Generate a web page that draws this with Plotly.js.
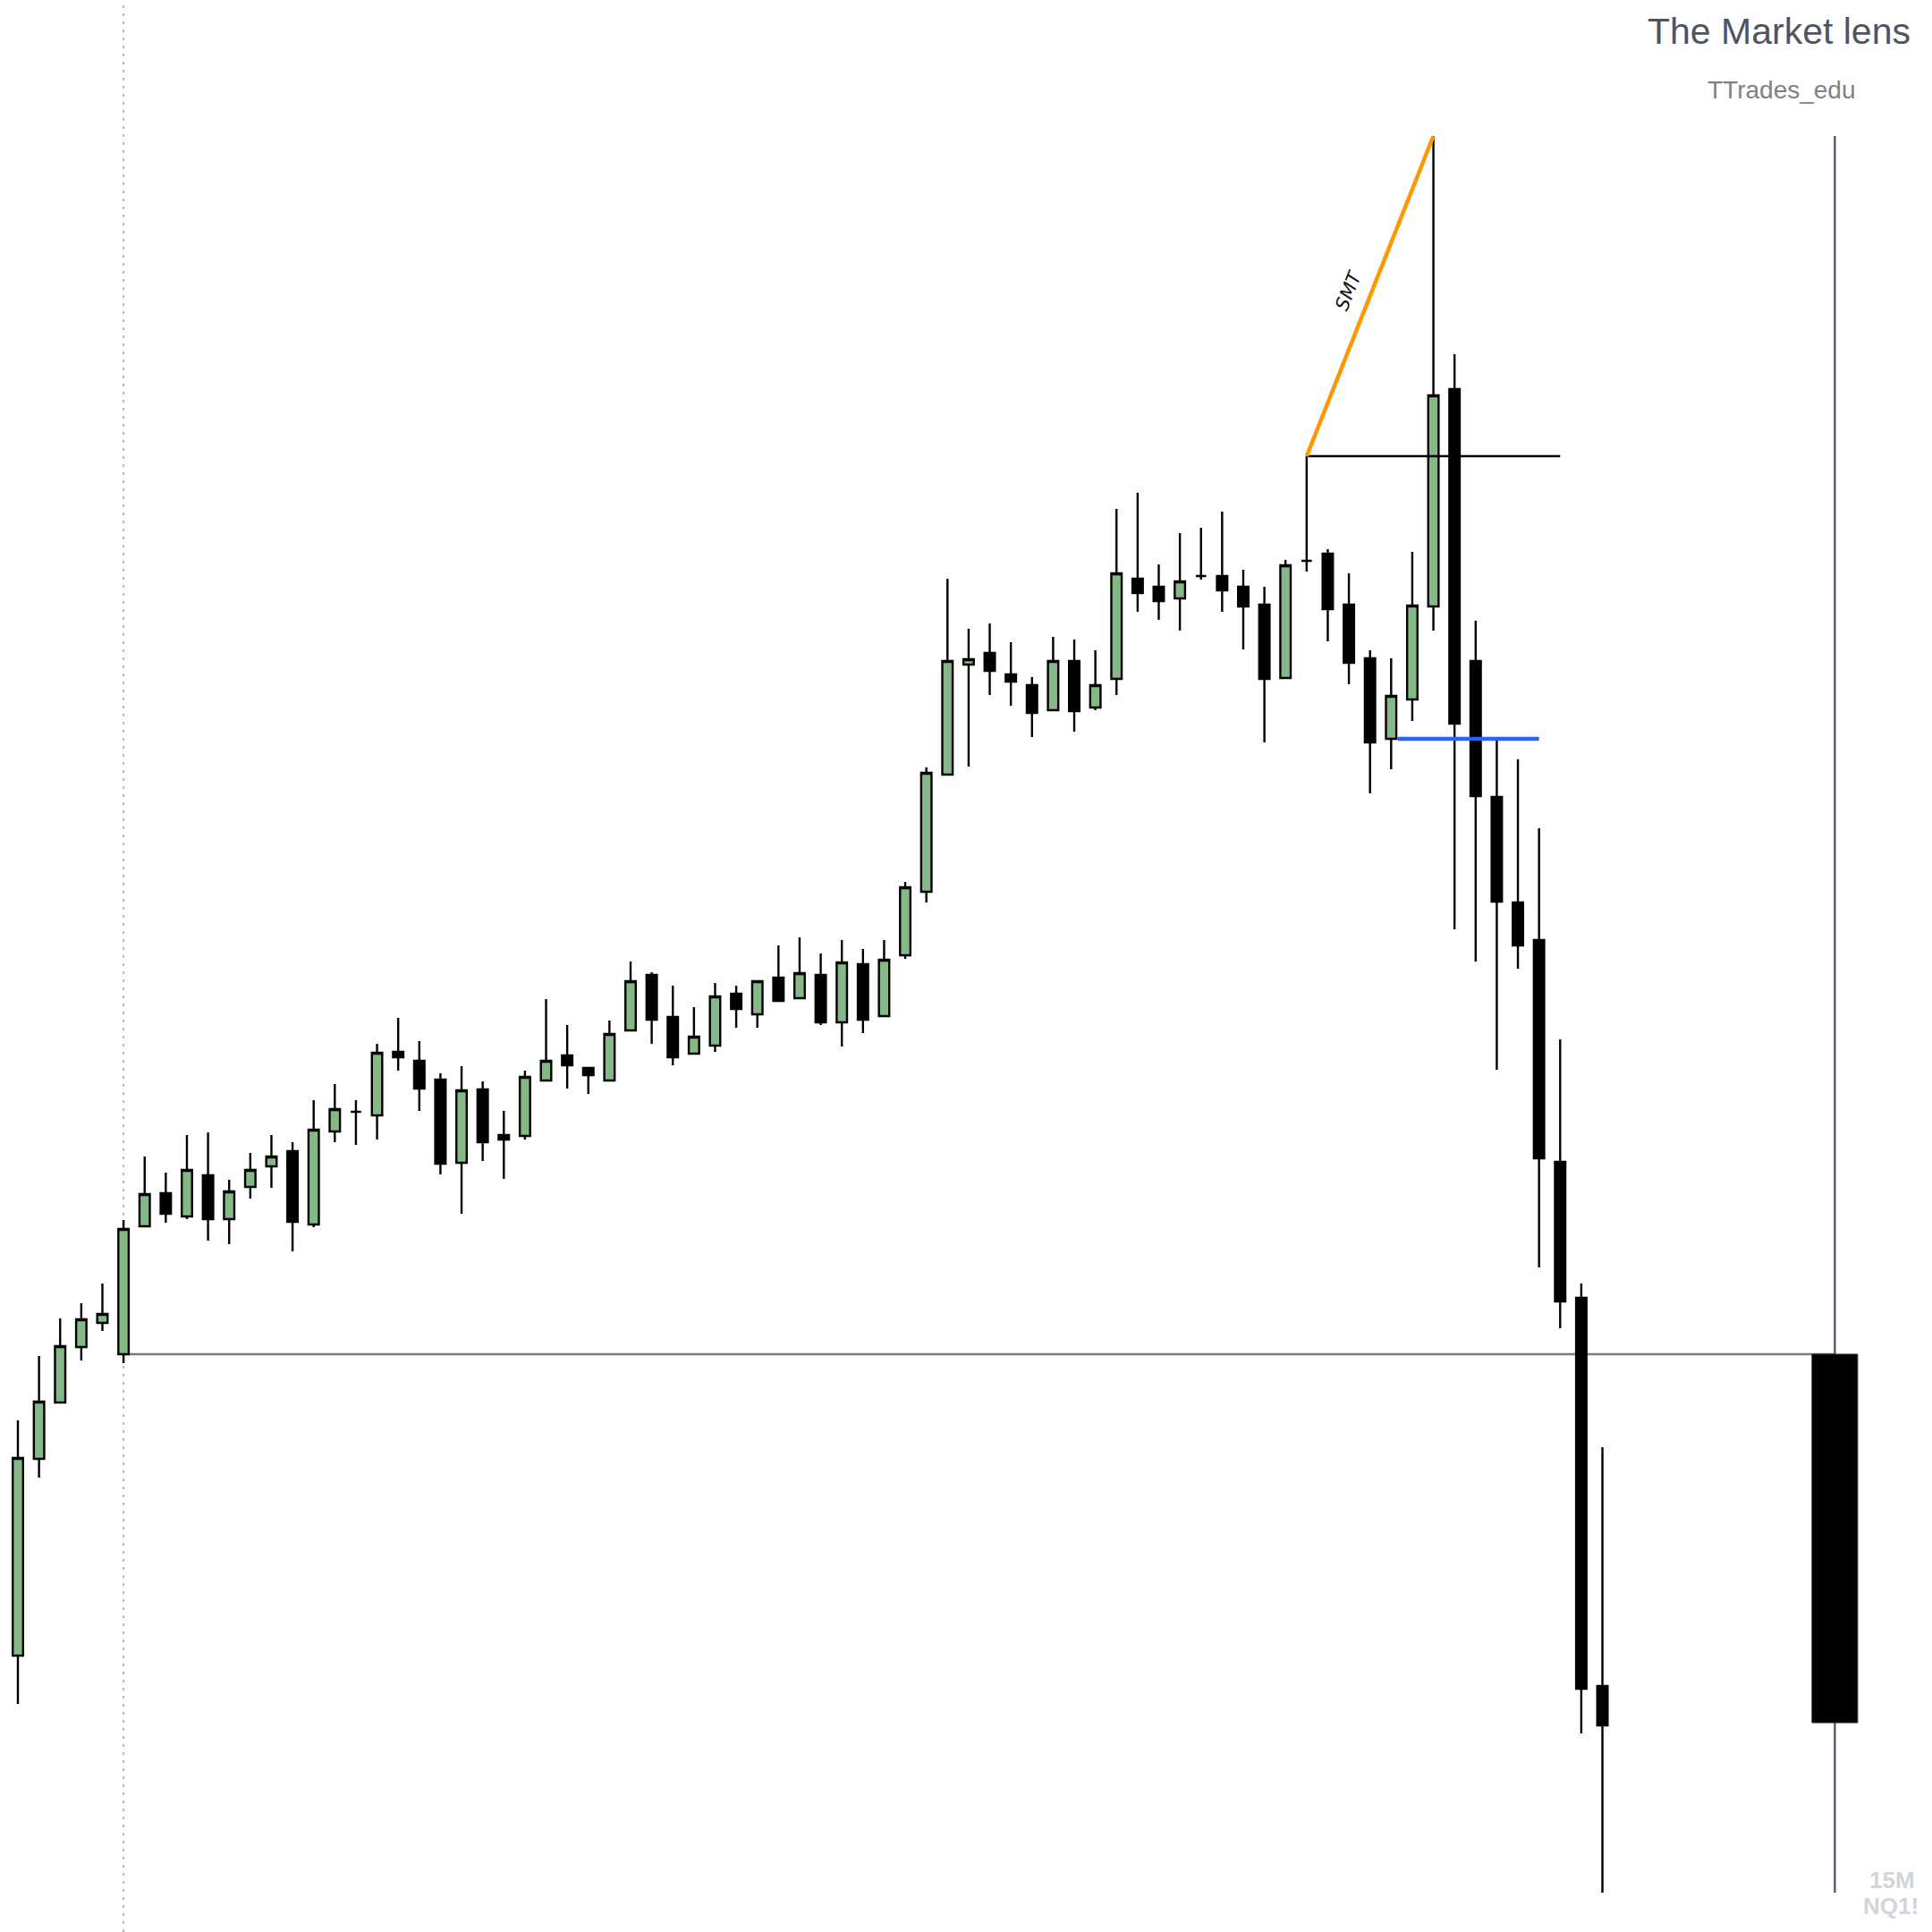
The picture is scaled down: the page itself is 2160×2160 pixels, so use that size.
<!DOCTYPE html>
<html><head><meta charset="utf-8">
<script src="https://cdn.plot.ly/plotly-3.0.1.min.js"></script>
<style>html,body{margin:0;padding:0;background:#fff}#chart{width:2160px;height:2160px}</style>
</head><body><div id="chart"></div>
<script>
// 15-minute bars (index), prices in chart points
const barIndex = [0,1,2,3,4,5,6,7,8,9,10,11,12,13,14,15,16,17,18,19,20,21,22,23,24,25,26,27,28,29,30,31,32,33,34,35,36,37,38,39,40,41,42,43,44,45,46,47,48,49,50,51,52,53,54,55,56,57,58,59,60,61,62,63,64,65,66,67,68,69,70,71,72,73,74,75];
const openP  = [309,529,592,654,681,646,789,826,800,846,797,833,856,873,791,895,917,913,984,974,953,860,942,891,890,952,980,966,952,1008,1070,1023,982,991,1049,1026,1067,1044,1070,1017,1082,1024,1092,1163,1294,1417,1430,1406,1394,1366,1421,1369,1401,1513,1504,1491,1516,1516,1504,1484,1402,1533,1541,1484,1424,1334,1378,1482,1725,1421,1269,1151,1109,861,709,275];
const highP  = [572,644,686,703,725,796,867,849,891,894,841,871,891,883,930,948,930,993,1022,996,960,968,951,918,963,1043,1014,966,1019,1085,1073,1058,1034,1061,1058,1063,1103,1112,1094,1109,1099,1109,1174,1302,1513,1457,1463,1442,1403,1448,1445,1433,1591,1609,1529,1564,1570,1588,1523,1504,1534,1650,1546,1519,1433,1424,1543,2008,1764,1466,1332,1311,1234,998,725,542];
const lowP   = [255,508,592,639,672,636,789,793,797,773,769,820,832,761,788,883,880,886,963,918,847,803,862,842,886,952,943,937,952,1008,993,969,982,984,1011,1011,1041,1044,1014,990,1005,1024,1088,1151,1294,1303,1383,1371,1336,1366,1342,1366,1383,1476,1467,1455,1512,1476,1434,1330,1402,1521,1443,1395,1273,1300,1354,1455,1121,1085,964,1077,743,675,222,44];
const closeP = [530,593,655,685,691,786,825,803,852,797,828,852,867,794,897,920,917,983,978,943,859,941,883,886,956,974,969,958,1004,1063,1020,978,1001,1046,1032,1063,1041,1072,1017,1084,1020,1087,1168,1296,1421,1423,1410,1398,1363,1421,1365,1394,1519,1497,1488,1510,1516,1500,1482,1401,1528,1533,1479,1419,1330,1382,1483,1718,1351,1270,1152,1103,865,705,272,231];

// Higher-timeframe candle shown at the right edge
const htfOpen = 646, htfHigh = 2008, htfLow = 44, htfClose = 234;

// Marked bars
const rangeStartBar = 5;   // dotted line + open level
const smtLowBar = 61;      // SMT swing 1
const smtHighBar = 67;     // SMT swing 2
const levelEndBar = 73;
const blueBar = 65;
const blueEndBar = 72;

const labels = {title:'The Market lens', sub:'TTrades_edu', tf:'15M', sym:'NQ1!', smt:'SMT'};

const htfX = 86;

const traces = [
  {type:'bar', x:[htfX], base:[htfClose], y:[htfOpen - htfClose], width:[2.16],
   marker:{color:'#000000', line:{color:'#2a2a2a', width:1}}, hoverinfo:'skip', showlegend:false},
  {type:'candlestick', x:barIndex, open:openP, high:highP, low:lowP, close:closeP,
   increasing:{line:{color:'#000000', width:2.4}, fillcolor:'#84b985'},
   decreasing:{line:{color:'#000000', width:2.4}, fillcolor:'#000000'},
   whiskerwidth:0, hoverinfo:'skip', showlegend:false}
];

const shapes = [
  {type:'line', layer:'below', xref:'x', yref:'paper', x0:rangeStartBar, x1:rangeStartBar, y0:0, y1:1,
   line:{color:'#b8b8b8', width:2, dash:'3px,6px'}},
  {type:'line', layer:'below', xref:'x', yref:'y', x0:rangeStartBar, x1:htfX, y0:openP[rangeStartBar], y1:openP[rangeStartBar],
   line:{color:'#7a7a7a', width:2.4}},
  {type:'line', layer:'below', xref:'x', yref:'y', x0:htfX, x1:htfX, y0:htfLow, y1:htfHigh,
   line:{color:'#5d606b', width:2.5}},
  {type:'line', xref:'x', yref:'y', x0:smtLowBar, x1:levelEndBar, y0:highP[smtLowBar], y1:highP[smtLowBar],
   line:{color:'#000000', width:2.4}},
  {type:'line', xref:'x', yref:'y', x0:blueBar + 0.3, x1:blueEndBar, y0:openP[blueBar], y1:openP[blueBar],
   line:{color:'#2962ff', width:4.5}},
  {type:'line', xref:'x', yref:'y', x0:smtLowBar, x1:smtHighBar, y0:highP[smtLowBar], y1:highP[smtHighBar],
   line:{color:'#ff9800', width:4.5}}
];

const annotations = [
  {xref:'paper', yref:'paper', x:0.9208, y:0.9838, xanchor:'center', yanchor:'middle', showarrow:false,
   text:labels.title, font:{family:'Liberation Sans, Arial, sans-serif', size:41, color:'#50545e'}},
  {xref:'paper', yref:'paper', x:0.9222, y:0.9537, xanchor:'center', yanchor:'middle', showarrow:false,
   text:labels.sub, font:{family:'Liberation Sans, Arial, sans-serif', size:28, color:'#7d818a'}},
  {xref:'paper', yref:'paper', x:0.9796, y:0.0269, xanchor:'center', yanchor:'middle', showarrow:false,
   text:'<b>'+labels.tf+'</b>', font:{family:'Liberation Sans, Arial, sans-serif', size:26, color:'#d3d5da'}},
  {xref:'paper', yref:'paper', x:0.9787, y:0.0134, xanchor:'center', yanchor:'middle', showarrow:false,
   text:'<b>'+labels.sym+'</b>', font:{family:'Liberation Sans, Arial, sans-serif', size:26, color:'#d3d5da'}},
  {xref:'x', yref:'y', x:(smtLowBar + smtHighBar)/2, y:(highP[smtLowBar] + highP[smtHighBar])/2,
   xshift:-24, yshift:6, textangle:-68.4, showarrow:false, xanchor:'center', yanchor:'middle',
   text:'<i>'+labels.smt+'</i>', font:{family:'DejaVu Sans, sans-serif', size:21, color:'#111111'}}
];

const layout = {
  width:2160, height:2160, margin:{l:0, r:0, t:0, b:0, pad:0},
  paper_bgcolor:'#ffffff', plot_bgcolor:'#ffffff',
  showlegend:false, hovermode:false,
  xaxis:{range:[-0.847, 90.6], visible:false, rangeslider:{visible:false}, fixedrange:true},
  yaxis:{range:[0, 2160], visible:false, fixedrange:true},
  shapes:shapes, annotations:annotations
};

Plotly.newPlot('chart', traces, layout, {staticPlot:true, displayModeBar:false});
</script>
</body></html>
